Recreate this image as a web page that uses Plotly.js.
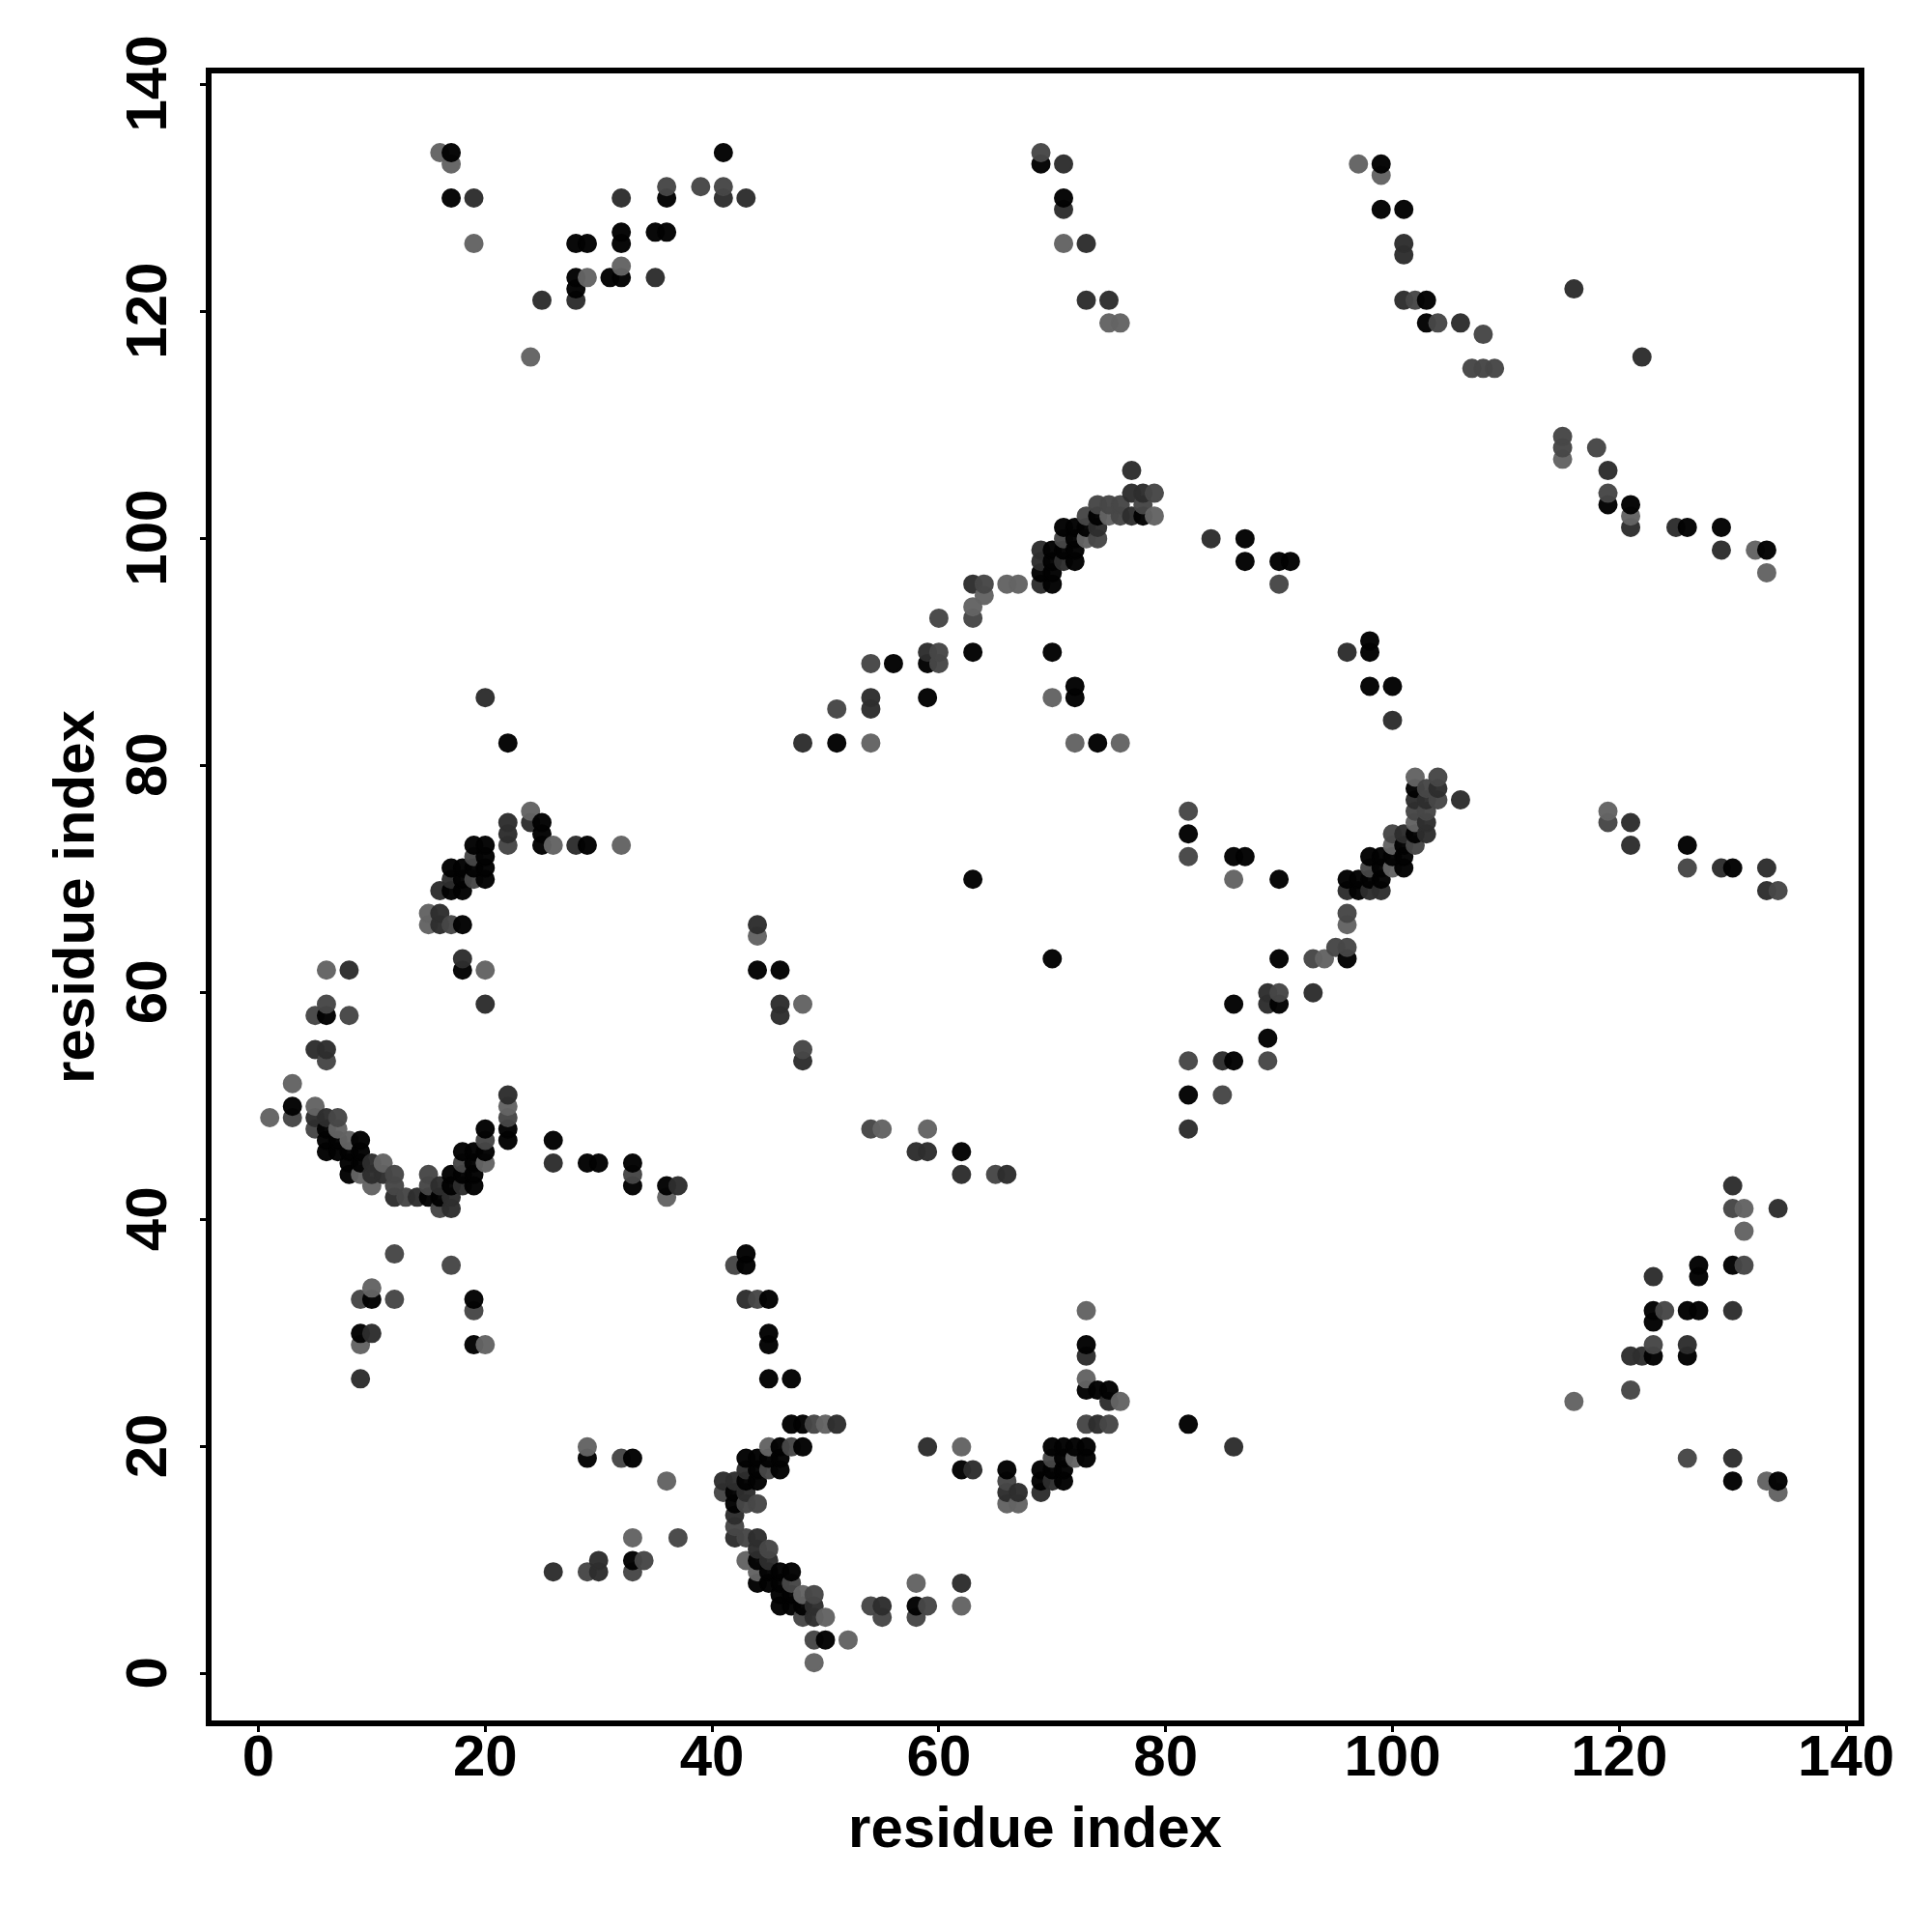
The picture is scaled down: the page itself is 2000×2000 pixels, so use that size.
<!DOCTYPE html>
<html><head><meta charset="utf-8">
<script src="https://cdn.plot.ly/plotly-3.0.1.min.js"></script>
<style>html,body{margin:0;padding:0;background:#fff}</style></head>
<body><div id="chart" style="width:2000px;height:2000px"></div>
<script>
// [residue x, residue y] contact pairs, grouped by grey level
const blackPts = [[17,134],[17,130],[28,126],[29,126],[28,123],[28,122],[31,123],[32,123],[32,126],[32,127],[35,127],[36,127],[36,130],[41,134],
[69,133],[71,130],[99,133],[99,129],[101,129],[103,121],[103,119],[119,103],[121,103],[126,101],[129,101],[133,99],
[51,82],[56,89],[59,86],[59,89],[63,90],[74,102],[78,102],[73,101],[72,101],[71,101],[72,100],[72,99],[71,99],[70,99],[70,98],[72,98],[69,97],[70,97],[70,96],
[70,90],[72,87],[72,86],[74,82],[87,100],[87,98],[90,98],[91,98],[98,91],[98,90],[98,87],[100,87],[63,70],[70,63],
[82,74],[86,72],[87,72],[90,70],[82,51],[86,54],[86,59],[90,59],[90,63],[89,56],[96,63],
[102,78],[102,74],[101,73],[98,72],[99,72],[100,72],[101,72],[99,71],[101,71],[96,70],[97,70],[98,70],[99,70],[97,69],
[126,73],[130,71],[25,75],[25,74],[25,73],[29,73],[19,73],[20,73],[20,72],[20,71],[19,71],[20,70],[17,71],[18,71],[18,70],[17,69],[18,69],[18,66],[18,62],[22,82],[6,58],
[3,50],[6,48],[6,47],[7,47],[6,46],[7,46],[8,46],[9,47],[9,46],[9,45],[8,45],[8,44],[15,42],[16,42],[17,44],[17,43],[18,46],[18,44],[19,46],[19,45],[19,44],[19,43],[20,48],[20,46],[22,48],[22,47],[26,47],[29,45],[30,45],[33,45],[33,43],[36,43],
[44,62],[46,62],[62,46],[10,33],[19,33],[9,30],[19,29],[29,19],[33,19],[33,10],[43,37],[43,36],[45,33],[45,30],[45,29],[45,26],[47,26],
[47,22],[48,22],[46,20],[48,20],[43,19],[44,19],[45,19],[46,19],[44,18],[46,18],[43,17],[44,17],[42,16],[42,15],[44,10],[45,9],[46,9],[47,9],[44,8],[45,8],[46,8],[46,7],[47,7],[46,6],[47,6],[48,6],[50,3],[58,6],[62,18],
[73,29],[73,25],[74,25],[75,25],[70,20],[71,20],[72,20],[73,20],[71,19],[73,19],[69,18],[70,18],[71,18],[66,18],[69,17],[71,17],[82,22],[123,28],[123,31],[123,32],[126,32],[127,32],[126,28],[127,35],[127,36],[130,36],[130,17],[134,17]];
const darkPts = [[19,130],[25,121],[28,121],[32,130],[35,123],[41,130],[43,130],[71,133],[71,129],[73,126],[73,121],[75,121],[101,126],[101,125],[101,121],[106,119],[116,122],[122,116],
[119,106],[121,101],[125,101],[129,99],[48,82],[54,85],[54,86],[59,90],[63,96],[77,106],[77,104],[78,104],[77,102],[74,101],[69,99],[69,98],[71,98],[69,96],
[84,100],[96,90],[100,84],[82,48],[85,54],[89,60],[89,59],[93,60],[104,78],[102,77],[103,77],[106,77],[103,75],[103,74],[101,74],[96,69],[98,69],[99,69],
[121,75],[121,73],[129,71],[133,71],[133,69],[24,75],[28,73],[22,75],[22,74],[17,70],[16,69],[16,67],[16,66],[18,63],[20,59],[20,86],[8,62],[5,55],[6,55],
[5,49],[6,49],[10,45],[10,44],[11,44],[12,42],[14,42],[16,43],[17,42],[17,41],[18,43],[22,51],[26,45],[37,43],[44,66],[46,59],[46,58],[48,54],[58,46],[59,46],[62,44],[66,44],
[10,30],[9,26],[26,9],[30,10],[30,9],[43,33],[51,22],[43,18],[41,17],[42,17],[43,16],[42,14],[42,12],[44,12],[44,11],[45,10],[49,6],[49,5],[55,6],[62,8],[59,20],[63,18],
[73,28],[75,24],[74,22],[70,17],[66,16],[67,16],[69,16],[86,20],[121,28],[122,28],[123,35],[126,29],[130,32],[130,43],[134,41],[130,19]];
const midPts = [[36,131],[39,131],[41,131],[69,134],[102,121],[104,119],[108,118],[107,115],[108,115],[109,115],[115,109],[115,108],[118,108],[119,104],
[51,85],[54,89],[60,89],[60,90],[60,93],[63,93],[64,96],[76,103],[75,103],[74,103],[78,103],[79,104],[76,102],[73,102],[71,100],[74,100],
[90,96],[82,76],[82,72],[82,54],[85,51],[90,60],[89,54],[93,63],[95,64],[96,64],[96,67],[104,79],[103,78],[104,77],[102,76],[103,76],[100,74],[102,73],[98,71],
[119,75],[126,71],[134,69],[22,73],[19,72],[19,70],[17,66],[6,59],[5,58],[8,58],[6,54],
[3,49],[5,48],[7,49],[12,44],[12,43],[13,42],[15,44],[15,43],[16,41],[18,45],[20,47],[22,49],[33,44],
[48,55],[54,48],[65,44],[9,33],[12,37],[12,33],[17,36],[19,32],[29,9],[32,19],[33,9],[34,10],[37,12],[42,36],[44,33],
[49,22],[47,20],[45,18],[41,16],[43,15],[44,15],[42,13],[43,12],[45,11],[47,8],[49,7],[48,5],[49,3],[54,6],[55,5],[59,6],[58,5],
[70,19],[66,17],[73,22],[75,22],[123,29],[124,32],[121,25],[131,36],[130,41],[126,19]];
const lightPts = [[16,134],[17,133],[19,126],[24,116],[29,123],[32,124],[71,126],[75,119],[76,119],[97,133],[99,132],[115,107],[121,102],[132,99],[133,97],
[54,82],[63,94],[64,95],[66,96],[67,96],[79,102],[75,102],[73,100],[70,86],[72,82],[76,82],[86,70],[94,63],[96,66],
[102,79],[102,75],[100,73],[100,71],[119,76],[24,76],[26,73],[32,73],[15,67],[15,66],[20,62],[6,62],
[1,49],[3,52],[5,50],[7,48],[8,47],[9,44],[11,45],[10,43],[20,45],[22,50],[36,42],[44,65],[48,59],[55,48],[59,48],[10,34],[9,29],[20,29],
[29,20],[36,17],[33,12],[45,20],[50,22],[43,10],[44,9],[48,7],[50,5],[52,3],[49,1],[58,8],[62,6],[62,20],
[73,32],[73,26],[76,24],[72,19],[66,15],[67,15],[116,24],[131,39],[131,41],[133,17],[134,16]];

const tickValues = [0,20,40,60,80,100,120,140];
const axisLabel = 'residue index';
const greys = ['#020202','#2e2e2e','#474747','#646464'];

const all = [];
[blackPts,darkPts,midPts,lightPts].forEach((g,i)=>g.forEach(p=>all.push({x:p[0],y:p[1],c:greys[i]})));
all.sort((a,b)=>a.x-b.x||a.y-b.y);

const font = 'Liberation Sans, Arial, sans-serif';
const axisBase = {
  tickvals: tickValues, ticktext: tickValues.map(String), ticks:'outside', ticklen:6, tickwidth:3, tickcolor:'#000',
  showgrid:false, zeroline:false, showline:true, mirror:true, linecolor:'#000', linewidth:6,
  tickfont:{family:font,size:60,color:'#000',weight:700}
};
Plotly.newPlot('chart',[{
  type:'scatter',mode:'markers',x:all.map(d=>d.x),y:all.map(d=>d.y),
  marker:{size:18,color:all.map(d=>d.c),opacity:0.97,line:{width:2,color:all.map(d=>d.c)}},
  hoverinfo:'x+y',showlegend:false
}],{
  width:2000,height:2000,paper_bgcolor:'#fff',plot_bgcolor:'#fff',showlegend:false,
  margin:{l:219,r:76,t:76,b:219,pad:0},
  xaxis:Object.assign({},axisBase,{range:[-4.13,141.1],ticklabelstandoff:-27,
    title:{text:axisLabel,font:{family:font,size:60,color:'#000',weight:700},standoff:22}}),
  yaxis:Object.assign({},axisBase,{range:[-4.09,140.98],tickangle:-90,ticklabelstandoff:11,ticklabelshift:8,
    title:{text:axisLabel,font:{family:font,size:60,color:'#000',weight:700},standoff:3}})
},{displayModeBar:false,staticPlot:true});
</script></body></html>
